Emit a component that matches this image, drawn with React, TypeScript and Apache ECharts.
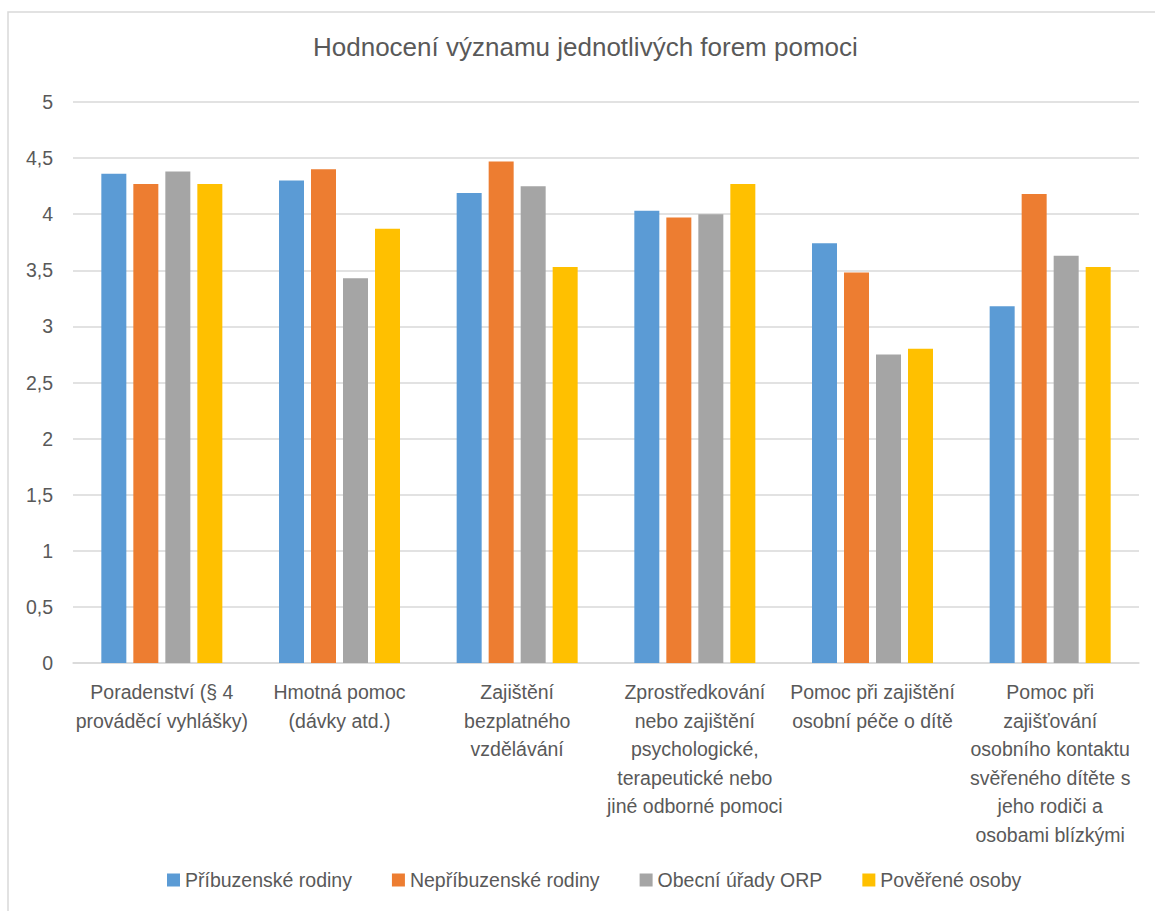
import React, { useEffect, useRef } from "react";
import * as echarts from "echarts";

const categories = [
  "Poradenství (§ 4\nprováděcí vyhlášky)",
  "Hmotná pomoc\n(dávky atd.)",
  "Zajištění\nbezplatného\nvzdělávání",
  "Zprostředkování\nnebo zajištění\npsychologické,\nterapeutické nebo\njiné odborné pomoci",
  "Pomoc při zajištění\nosobní péče o dítě",
  "Pomoc při\nzajišťování\nosobního kontaktu\nsvěřeného dítěte s\njeho rodiči a\nosobami blízkými",
];

const seriesNames = [
  "Příbuzenské rodiny",
  "Nepříbuzenské rodiny",
  "Obecní úřady ORP",
  "Pověřené osoby",
];

const pribuzenske = [4.36, 4.3, 4.19, 4.03, 3.74, 3.18];
const nepribuzenske = [4.27, 4.4, 4.47, 3.97, 3.48, 4.18];
const obecniUrady = [4.38, 3.43, 4.25, 4.0, 2.75, 3.63];
const povereneOsoby = [4.27, 3.87, 3.53, 4.27, 2.8, 3.53];

const colors = ["#5B9BD5", "#ED7D31", "#A5A5A5", "#FFC000"];

const FONT = "'Liberation Sans', Arial, sans-serif";
const TEXT = "#595959";

export default function App() {
  const ref = useRef<HTMLDivElement>(null);

  useEffect(() => {
    if (!ref.current) return;
    const chart = echarts.init(ref.current, undefined, { renderer: "svg" });
    const values = [pribuzenske, nepribuzenske, obecniUrady, povereneOsoby];
    chart.setOption({
      animation: false,
      textStyle: { fontFamily: FONT },
      title: {
        text: "Hodnocení významu jednotlivých forem pomoci",
        left: 313,
        top: 34,
        padding: 0,
        textStyle: {
          fontFamily: FONT,
          fontSize: 26,
          fontWeight: "normal",
          color: TEXT,
        },
      },
      graphic: [
        {
          type: "rect",
          shape: { x: 8, y: 12, width: 1170, height: 920 },
          style: { fill: "none", stroke: "#d9d9d9", lineWidth: 1.5 },
          silent: true,
        },
      ],
      legend: {
        left: 167,
        top: 870,
        padding: 0,
        icon: "rect",
        itemWidth: 13,
        itemHeight: 13,
        itemGap: 40,
        textStyle: { fontFamily: FONT, fontSize: 19.5, color: TEXT },
        data: seriesNames,
      },
      grid: { left: 73, right: 16, top: 102, height: 561, containLabel: false },
      xAxis: {
        type: "category",
        data: categories,
        axisLine: { show: true, lineStyle: { color: "#d9d9d9", width: 1.5 } },
        axisTick: { show: false },
        axisLabel: {
          interval: 0,
          margin: 15,
          fontFamily: FONT,
          fontSize: 19.5,
          lineHeight: 28.5,
          color: TEXT,
          align: "center",
          verticalAlign: "top",
        },
      },
      yAxis: {
        type: "value",
        min: 0,
        max: 5,
        interval: 0.5,
        axisLine: { show: false },
        axisTick: { show: false },
        splitLine: { lineStyle: { color: "#d9d9d9", width: 1.5 } },
        axisLabel: {
          margin: 20,
          fontFamily: FONT,
          fontSize: 19.5,
          color: TEXT,
          formatter: (v: number) => String(v).replace(".", ","),
        },
      },
      series: seriesNames.map((name, i) => ({
        name,
        type: "bar",
        data: values[i],
        barWidth: 25,
        barGap: "28%",
        itemStyle: { color: colors[i] },
      })),
    });
    return () => chart.dispose();
  }, []);

  return (
    <div
      style={{
        position: "fixed",
        left: 0,
        top: 0,
        width: 1155,
        height: 911,
        overflow: "hidden",
        background: "#fff",
      }}
    >
      <div ref={ref} style={{ width: 1155, height: 911 }} />
    </div>
  );
}
